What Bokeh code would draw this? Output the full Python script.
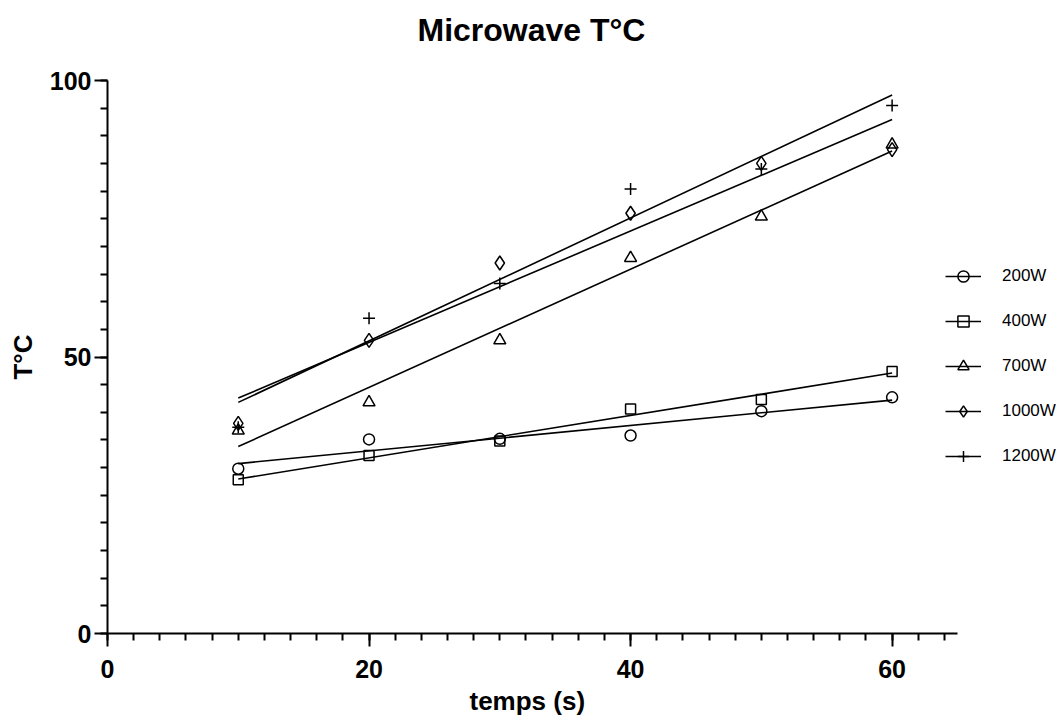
import numpy as np
from bokeh.plotting import figure
from bokeh.models import Range1d, SingleIntervalTicker, Legend, LegendItem, Title
from bokeh.embed import file_html
from bokeh.resources import INLINE

# ---- data ----
temps = [10, 20, 30, 40, 50, 60]
series_names = ["200W", "400W", "700W", "1000W", "1200W"]
t_200w = [29.8, 35.1, 35.2, 35.8, 40.2, 42.7]
t_400w = [27.8, 32.2, 34.8, 40.6, 42.3, 47.4]
t_700w = [36.7, 41.8, 53.0, 67.9, 75.4, 88.4]
t_1000w = [38.0, 53.0, 67.0, 76.0, 85.0, 87.5]
t_1200w = [37.3, 57.0, 63.3, 80.4, 84.0, 95.5]
x_axis_end = 65
y_axis_end = 100

FONT = "Liberation Sans"

# the frame runs to the right edge so the legend fits inside it; the axis stops at 65
x_view_end = x_axis_end * (1062 - 107) / 850.0

p = figure(width=1062, height=722, output_backend="svg", toolbar_location=None,
           x_range=Range1d(0, x_view_end), y_range=Range1d(0, y_axis_end),
           min_border_left=107, min_border_right=0,
           min_border_top=80, min_border_bottom=89)
p.outline_line_color = None
p.xgrid.visible = False
p.ygrid.visible = False
p.title.text = ""

# spacer nearest the frame, then the real title above it
spacer = Title(text=" ", text_font_size="10px", standoff=20)
p.add_layout(spacer, "above")
main_title = Title(text="Microwave T°C", align="left", offset=310, text_font=FONT,
                   text_font_size="32px", text_font_style="bold",
                   text_color="black", standoff=0)
p.add_layout(main_title, "above")

for ax, interval in ((p.xaxis[0], 20), (p.yaxis[0], 50)):
    ax.ticker = SingleIntervalTicker(interval=interval, num_minor_ticks=10)
    ax.axis_line_width = 2
    ax.axis_line_color = "black"
    ax.major_tick_line_width = 2
    ax.major_tick_line_color = "black"
    ax.minor_tick_line_width = 2
    ax.minor_tick_line_color = "black"
    ax.major_tick_out = 13
    ax.major_tick_in = 0
    ax.minor_tick_out = 7
    ax.minor_tick_in = 0
    ax.major_label_text_font = FONT
    ax.major_label_text_font_size = "25px"
    ax.major_label_text_font_style = "bold"
    ax.major_label_text_color = "black"
    ax.axis_label_text_font = FONT
    ax.axis_label_text_font_size = "26px"
    ax.axis_label_text_font_style = "bold"
    ax.axis_label_text_color = "black"

p.xaxis[0].bounds = (0, x_axis_end)
p.yaxis[0].bounds = (0, y_axis_end)
p.yaxis[0].axis_label = "T°C"
p.xaxis[0].axis_label = None
p.xaxis[0].axis_label_standoff = 0
p.xaxis[0].major_label_standoff = 13
p.yaxis[0].major_label_standoff = 3
p.yaxis[0].axis_label_standoff = 9

x_title = Title(text="temps (s)", align="left", offset=362, text_font=FONT,
                text_font_size="26px", text_font_style="bold",
                text_color="black", standoff=6)
p.add_layout(x_title, "below")

markers = ["circle", "square", "triangle", "diamond", "cross"]
sizes = [11, 10, 12, 14, 12]
all_series = [t_200w, t_400w, t_700w, t_1000w, t_1200w]

items = []
for name, ys, mk, sz in zip(series_names, all_series, markers, sizes):
    slope, intercept = np.polyfit(temps, ys, 1)
    xs_fit = [temps[0], temps[-1]]
    ys_fit = [slope * xv + intercept for xv in xs_fit]
    lr = p.line(xs_fit, ys_fit, line_color="black", line_width=1.6)
    sr = p.scatter(temps, ys, marker=mk, size=sz,
                   line_color="black", line_width=1.5, fill_alpha=0)
    items.append(LegendItem(label=name, renderers=[lr, sr]))

legend = Legend(items=items, location=(838, 163))
legend.label_text_font = FONT
legend.label_text_font_size = "17px"
legend.label_text_color = "black"
legend.glyph_width = 36
legend.glyph_height = 28
legend.label_height = 28
legend.spacing = 17
legend.label_standoff = 21
legend.padding = 0
legend.margin = 0
legend.border_line_alpha = 0
legend.background_fill_alpha = 0
p.add_layout(legend, "center")

open("out.html", "w").write(file_html(p, INLINE))
